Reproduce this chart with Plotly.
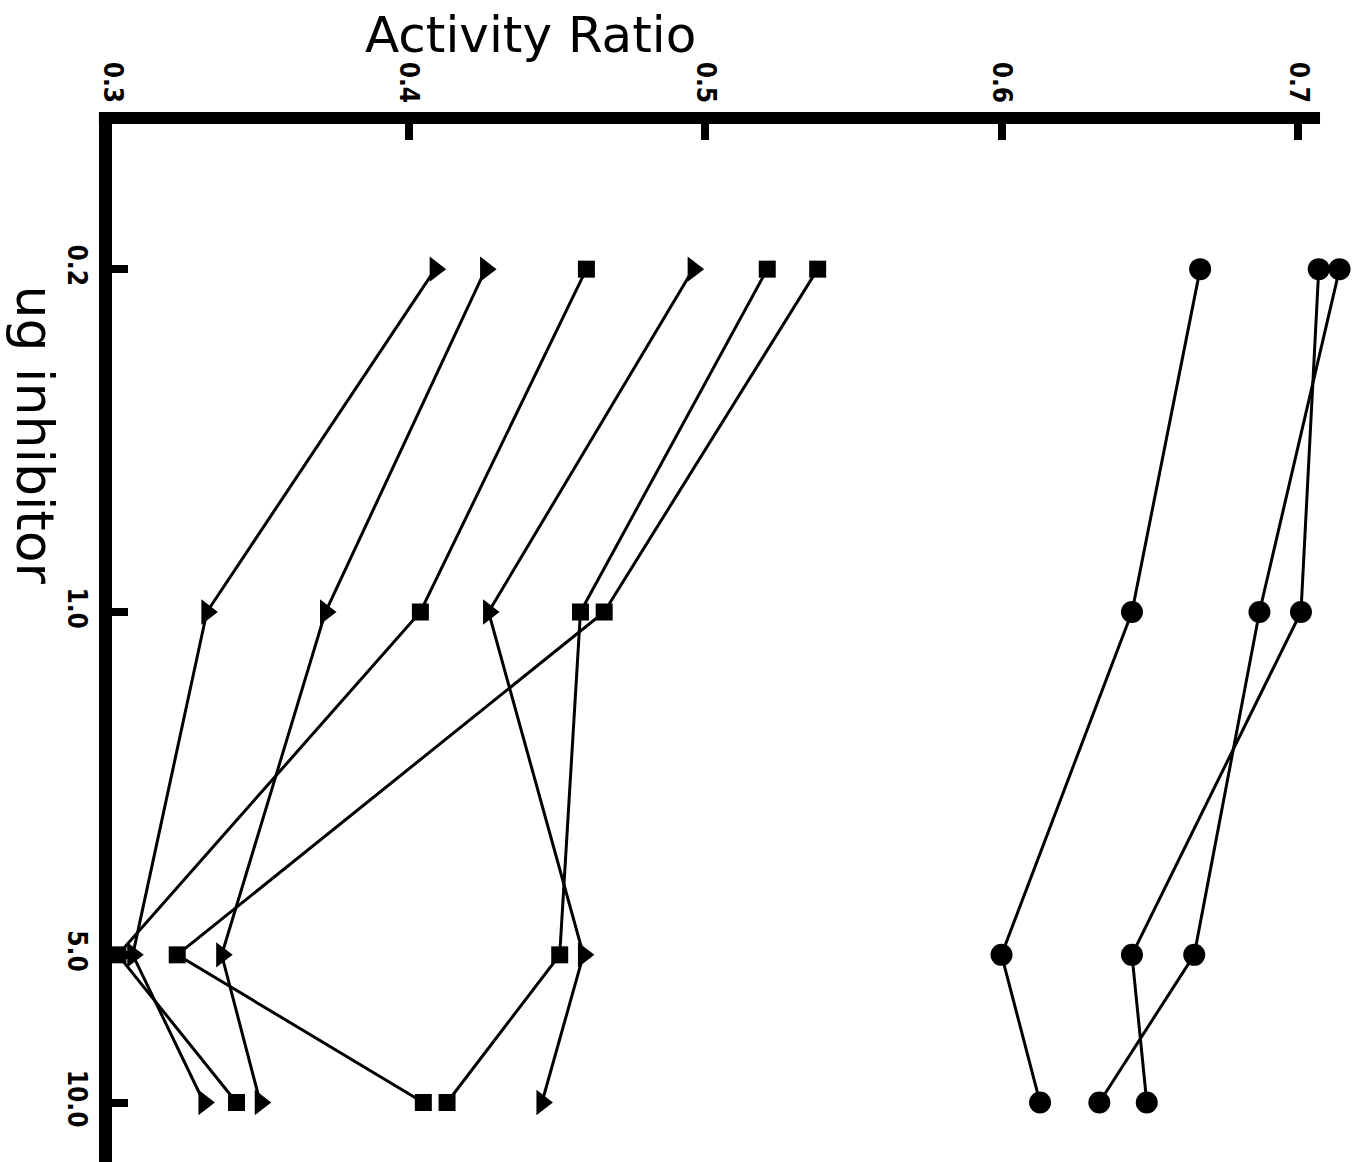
import plotly.graph_objects as go

# Inhibitor doses (ug) and activity ratios for each preparation
doses = [0.2, 1.0, 5.0, 10.0]

circle_a = [0.707, 0.701, 0.644, 0.649]
circle_b = [0.714, 0.687, 0.665, 0.633]
circle_c = [0.667, 0.644, 0.600, 0.613]

square_a = [0.460, 0.404, 0.302, 0.342]
square_b = [0.521, 0.458, 0.451, 0.413]
square_c = [0.538, 0.466, 0.322, 0.405]

triangle_a = [0.409, 0.332, 0.307, 0.331]
triangle_b = [0.426, 0.372, 0.337, 0.350]
triangle_c = [0.496, 0.427, 0.459, 0.445]

x_ticks = [0.3, 0.4, 0.5, 0.6, 0.7]
x_tick_labels = ["0.3", "0.4", "0.5", "0.6", "0.7"]
y_ticks = [0.2, 1.0, 5.0, 10.0]
y_tick_labels = ["0.2", "1.0", "5.0", "10.0"]

series = [
    (circle_a, "circle", 22),
    (circle_b, "circle", 22),
    (circle_c, "circle", 22),
    (square_a, "square", 17),
    (square_b, "square", 17),
    (square_c, "square", 17),
    (triangle_a, "triangle-right", 22),
    (triangle_b, "triangle-right", 22),
    (triangle_c, "triangle-right", 22),
]

fig = go.Figure()
for values, symbol, size in series:
    fig.add_trace(go.Scatter(
        x=values, y=doses, mode="lines+markers",
        line=dict(color="black", width=3),
        marker=dict(symbol=symbol, size=size, color="black"),
        cliponaxis=False, showlegend=False, hoverinfo="skip",
    ))

tick_font = dict(family="DejaVu Sans Condensed, DejaVu Sans",
                 size=26, color="black", weight=700)
title_font = dict(family="DejaVu Sans", size=50, color="black")

fig.update_layout(
    width=1357, height=1162,
    paper_bgcolor="white", plot_bgcolor="white",
    margin=dict(l=112, r=0, t=124, b=0),
    xaxis=dict(
        side="top", range=[0.3, 0.7199],
        tickvals=x_ticks, ticktext=x_tick_labels, tickangle=90,
        ticks="inside", ticklen=16, tickwidth=8, tickcolor="black",
        showline=False, ticklabelstandoff=16,
        showgrid=False, zeroline=False, tickfont=tick_font,
    ),
    yaxis=dict(
        type="log", range=[1.1213, -0.9949],
        tickvals=y_ticks, ticktext=y_tick_labels, tickangle=90,
        ticks="inside", ticklen=16, tickwidth=8, tickcolor="black",
        showline=True, linewidth=13, linecolor="black",
        showgrid=False, zeroline=False, tickfont=tick_font,
    ),
    # top axis bar, stopping just past the 0.7 tick
    shapes=[dict(type="line", xref="paper", yref="paper",
                 x0=-0.0105, x1=0.9703, y0=1.0058, y1=1.0058,
                 line=dict(color="black", width=12))],
    annotations=[
        dict(text="Activity Ratio", xref="paper", yref="paper",
             x=0.336, y=1.086, xanchor="center", yanchor="middle",
             showarrow=False, font=title_font),
        dict(text="ug inhibitor", xref="paper", yref="paper",
             x=-0.062, y=0.70, xanchor="center", yanchor="middle", textangle=90,
             showarrow=False, font=dict(family="DejaVu Sans", size=52, color="black")),
    ],
)

fig.write_html("out.html")
